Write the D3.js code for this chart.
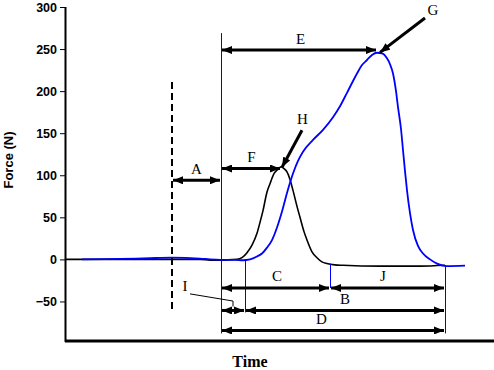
<!DOCTYPE html>
<html><head><meta charset="utf-8">
<script src="https://cdn.jsdelivr.net/npm/d3@7/dist/d3.min.js"></script>
<style>body{margin:0;background:#fff}svg{display:block}</style>
</head><body><svg id="c" width="494" height="370"></svg>
<script>
// ---- data (time in arbitrary units, force in N) ----
const yTicks = [-50, 0, 50, 100, 150, 200, 250, 300];
const blueT = [17,55,85,107,135,145,156,170,178,185,192,197,202,207,212,217,222,225,228,233,238,248,258,268,275,282,292,297,302,307,312,317,322,325,328,331,333,336,338,340,342,345,348,353,358,365,372,382,400];
const blueF = [0,0.5,1.5,2,1,0,-0.5,-0.5,-1,0,3.5,7,14,23,38,57,79,91,102,117,128,142,154,169,182,198,221,231,237,243,245.6,245,239,232,221,200,181,155,130,105,82,55,35,16,7,0,-5,-8,-7.5];
const blackT = [0,17,85,135,145,172,177,182,187,192,195,198,202,205,209,212,216,219,222,225,228,232,235,239,242,247,252,257,262,270,278,315,355,380];
const blackF = [0,0,0,0,-1,0,2,8,17,31,44,58,80,90,102,106,110,108,104,95,82,63,50,33,23,9,2,-3,-5,-6.5,-7,-8,-8,-7];
// phase markers: [time, fromForce, toForce]
const markerT = [156, 180, 265, 380];
const markerF0 = [269, 0, -5, -7];
const markerF1 = [-88, -63, -34, -88];
const dashedT = 107, dashedF = [211, -63];
// interval arrows
const spanNames = ["E", "F", "A", "C", "J", "I", "B", "D"];
const spanT0 = [156, 156, 107, 156, 265, 156, 180, 156];
const spanT1 = [312, 216, 156, 265, 380, 180, 380, 380];
const spanF  = [248.8, 108, 94, -34, -34, -60.7, -60.7, -84.5];
const spanLabelT = [235.5, 186.5, 131.5, 212, 318, null, 280, 256.5];
const spanLabelF = [256, 116, 102, -26, -26, null, -53, -76.5];
// pointer arrows
const pointNames = ["G", "H"];
const pointFromT = [360, 237], pointFromF = [287, 153.6];
const pointToT = [315, 217], pointToF = [246, 109.5];
const pointLabelT = [368, 237.5], pointLabelF = [290, 161];

// ---- drawing ----
const svg = d3.select("#c");
const x = d3.scaleLinear().domain([0, 429]).range([65, 494]);
const y = d3.scaleLinear().domain([-97, 300]).range([341, 7]);
const crisp = v => Math.round(v) + 0.5;

svg.append("defs").append("marker").attr("id","ah")
  .attr("viewBox","0 0 10 8").attr("refX",10).attr("refY",4)
  .attr("markerWidth",10).attr("markerHeight",8).attr("markerUnits","userSpaceOnUse")
  .attr("orient","auto-start-reverse")
  .append("path").attr("d","M0,0L10,4L0,8Z").attr("fill","#000");

// y axis
const yAxis = svg.append("g").attr("transform","translate(65,0)")
  .call(d3.axisLeft(y).tickValues(yTicks).tickSize(5).tickSizeOuter(0).tickPadding(3));
yAxis.select(".domain").remove();
yAxis.selectAll("text").attr("font-family","Liberation Sans, Arial, sans-serif")
  .attr("font-weight","bold").attr("font-size",12.5).attr("fill","#000");
svg.append("line").attr("x1",65.5).attr("x2",65.5).attr("y1",y(300)).attr("y2",y(-97)+1)
  .attr("stroke","#000").attr("stroke-width",2);
// x axis baseline
svg.append("line").attr("x1",x(0)).attr("x2",x(429)).attr("y1",y(-97)).attr("y2",y(-97))
  .attr("stroke","#000").attr("stroke-width",3);

svg.append("text").attr("transform","translate(13,160) rotate(-90)").attr("text-anchor","middle")
  .attr("font-family","Liberation Sans, Arial, sans-serif").attr("font-weight","bold")
  .attr("font-size",13).text("Force (N)");
svg.append("text").attr("x",250).attr("y",367).attr("text-anchor","middle")
  .attr("font-family","Liberation Serif, Times New Roman, serif").attr("font-weight","bold")
  .attr("font-size",16).text("Time");

const line = d3.line().x(d=>x(d[0])).y(d=>y(d[1])).curve(d3.curveMonotoneX);
svg.append("path").datum(blackT.map((t,i)=>[t,blackF[i]])).attr("d",line)
  .attr("fill","none").attr("stroke","#000").attr("stroke-width",1.6);
svg.append("path").datum(blueT.map((t,i)=>[t,blueF[i]])).attr("d",line)
  .attr("fill","none").attr("stroke","#0000ff").attr("stroke-width",1.8);

// markers
markerT.forEach((t,i)=>{
  svg.append("line").attr("x1",crisp(x(t))).attr("x2",crisp(x(t))).attr("y1",y(markerF0[i])).attr("y2",y(markerF1[i]))
    .attr("stroke","#0000ff").attr("stroke-width",1);
});
svg.append("line").attr("x1",x(dashedT)).attr("x2",x(dashedT)).attr("y1",y(dashedF[0])).attr("y2",y(dashedF[1]))
  .attr("stroke","#000").attr("stroke-width",2).attr("stroke-dasharray","7,4");

const serif = "Liberation Serif, Times New Roman, serif";
spanNames.forEach((n,i)=>{
  svg.append("line").attr("x1",x(spanT0[i])+1).attr("x2",x(spanT1[i])-1)
    .attr("y1",y(spanF[i])).attr("y2",y(spanF[i]))
    .attr("stroke","#000").attr("stroke-width",3)
    .attr("marker-start","url(#ah)").attr("marker-end","url(#ah)");
  if (spanLabelT[i] !== null) {
    svg.append("text").attr("x",x(spanLabelT[i])).attr("y",y(spanLabelF[i]))
      .attr("text-anchor","middle").attr("font-family",serif).attr("font-size",15).text(n);
  }
});
// I label + leader
svg.append("text").attr("x",x(120)).attr("y",y(-37)).attr("text-anchor","middle")
  .attr("font-family",serif).attr("font-size",15).text("I");
svg.append("path").attr("d",d3.line()([[x(125),y(-41)],[x(168),y(-49.5)],[x(168),y(-56)]]))
  .attr("fill","none").attr("stroke","#000").attr("stroke-width",1);

pointNames.forEach((n,i)=>{
  svg.append("line").attr("x1",x(pointFromT[i])).attr("y1",y(pointFromF[i]))
    .attr("x2",x(pointToT[i])).attr("y2",y(pointToF[i]))
    .attr("stroke","#000").attr("stroke-width",3).attr("marker-end","url(#ah)");
  svg.append("text").attr("x",x(pointLabelT[i])).attr("y",y(pointLabelF[i]))
    .attr("text-anchor","middle").attr("font-family",serif).attr("font-size",15).text(n);
});
</script></body></html>
